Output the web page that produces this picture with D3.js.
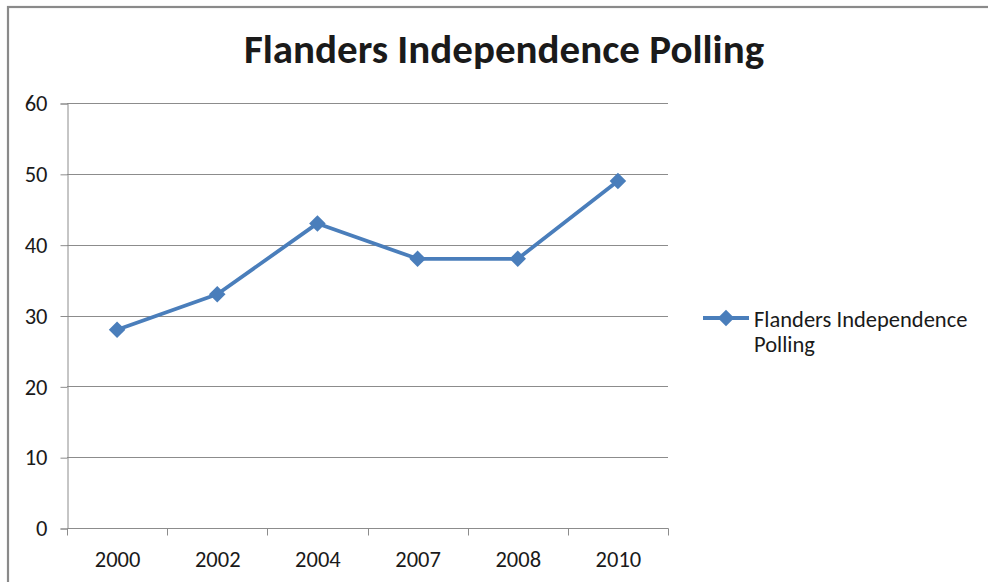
<!DOCTYPE html>
<html>
<head>
<meta charset="utf-8">
<script src="https://cdn.jsdelivr.net/npm/d3@7"></script>
<style>
  html, body { margin: 0; padding: 0; background: #fff; }
  svg { display: block; }
  text { font-family: Carlito, Lato, "Open Sans", sans-serif; fill: #1a1a1a; }
</style>
</head>
<body>
<svg id="chart" width="988" height="582"></svg>
<script>
// Poll years and share (%) in favour of Flemish independence
const years = ["2000", "2002", "2004", "2007", "2008", "2010"];
const polling = [28, 33, 43, 38, 38, 49];
const yTicks = [0, 10, 20, 30, 40, 50, 60];
const seriesName = "Flanders Independence Polling";

const svg = d3.select("#chart");
const W = 988, H = 582;
const plot = { left: 67, right: 668, top: 103, bottom: 528 };
const gridColor = "#8c8c8c";
const lineColor = "#4a7ebb";
const labelSize = 22.5;

// Outer chart frame
svg.append("rect")
  .attr("x", 8).attr("y", 7)
  .attr("width", W).attr("height", H)
  .attr("fill", "none").attr("stroke", "#8a8a8a").attr("stroke-width", 2.2);

// Title
svg.append("text")
  .attr("x", 504).attr("y", 63)
  .attr("text-anchor", "middle")
  .attr("font-size", 41).attr("font-weight", "bold")
  .attr("fill", "#000")
  .text(seriesName);

const x = d3.scaleBand().domain(years).range([plot.left, plot.right]);
const y = d3.scaleLinear().domain([0, 60]).range([plot.bottom, plot.top]);

// Horizontal gridlines
svg.append("g")
  .selectAll("line")
  .data(yTicks.filter(t => t > 0))
  .join("line")
  .attr("x1", plot.left).attr("x2", plot.right)
  .attr("y1", d => Math.round(y(d)) + 0.5).attr("y2", d => Math.round(y(d)) + 0.5)
  .attr("stroke", gridColor).attr("stroke-width", 1);

// Y axis
const yAxis = svg.append("g")
  .attr("transform", `translate(${plot.left + 0.5},0.5)`)
  .call(d3.axisLeft(y).tickValues(yTicks).tickSize(7).tickPadding(13));
yAxis.select(".domain").attr("stroke", gridColor);
yAxis.selectAll(".tick line").attr("stroke", gridColor);
yAxis.selectAll(".tick text")
  .attr("font-size", labelSize).attr("fill", "#1a1a1a")
  .attr("font-family", "Carlito, Lato, 'Open Sans', sans-serif");

// X axis with tick marks at category boundaries
const xAxis = svg.append("g")
  .attr("transform", `translate(0.5,${plot.bottom + 0.5})`);
xAxis.append("line")
  .attr("x1", plot.left).attr("x2", plot.right)
  .attr("stroke", gridColor);
const bounds = years.map(d => x(d)).concat([x(years[years.length - 1]) + x.bandwidth()]);
xAxis.selectAll("line.tk")
  .data(bounds)
  .join("line").attr("class", "tk")
  .attr("x1", d => Math.round(d)).attr("x2", d => Math.round(d))
  .attr("y1", 0).attr("y2", 7)
  .attr("stroke", gridColor);
xAxis.selectAll("text")
  .data(years)
  .join("text")
  .attr("x", d => x(d) + x.bandwidth() / 2)
  .attr("y", 38.5)
  .attr("text-anchor", "middle")
  .attr("font-size", labelSize)
  .text(d => d);

// Series line
const pts = years.map((d, i) => [x(d) + x.bandwidth() / 2, y(polling[i])]);
svg.append("path")
  .attr("d", d3.line()(pts))
  .attr("fill", "none")
  .attr("stroke", lineColor).attr("stroke-width", 3.8)
  .attr("stroke-linejoin", "round");

const diamond = d3.symbol().type(d3.symbolDiamond2).size(175);
svg.append("g")
  .selectAll("path")
  .data(pts)
  .join("path")
  .attr("transform", d => `translate(${d[0]},${d[1]})`)
  .attr("d", diamond)
  .attr("fill", lineColor);

// Legend
const lg = svg.append("g").attr("transform", "translate(703,318)");
lg.append("line").attr("x1", 0).attr("x2", 46).attr("y1", 0).attr("y2", 0)
  .attr("stroke", lineColor).attr("stroke-width", 3.8);
lg.append("path").attr("transform", "translate(23,0)").attr("d", diamond).attr("fill", lineColor);
const lt = lg.append("text").attr("x", 51).attr("y", 9).attr("font-size", labelSize);
lt.append("tspan").attr("x", 51).text("Flanders Independence");
lt.append("tspan").attr("x", 51).attr("dy", 25).text("Polling");
</script>
</body>
</html>
